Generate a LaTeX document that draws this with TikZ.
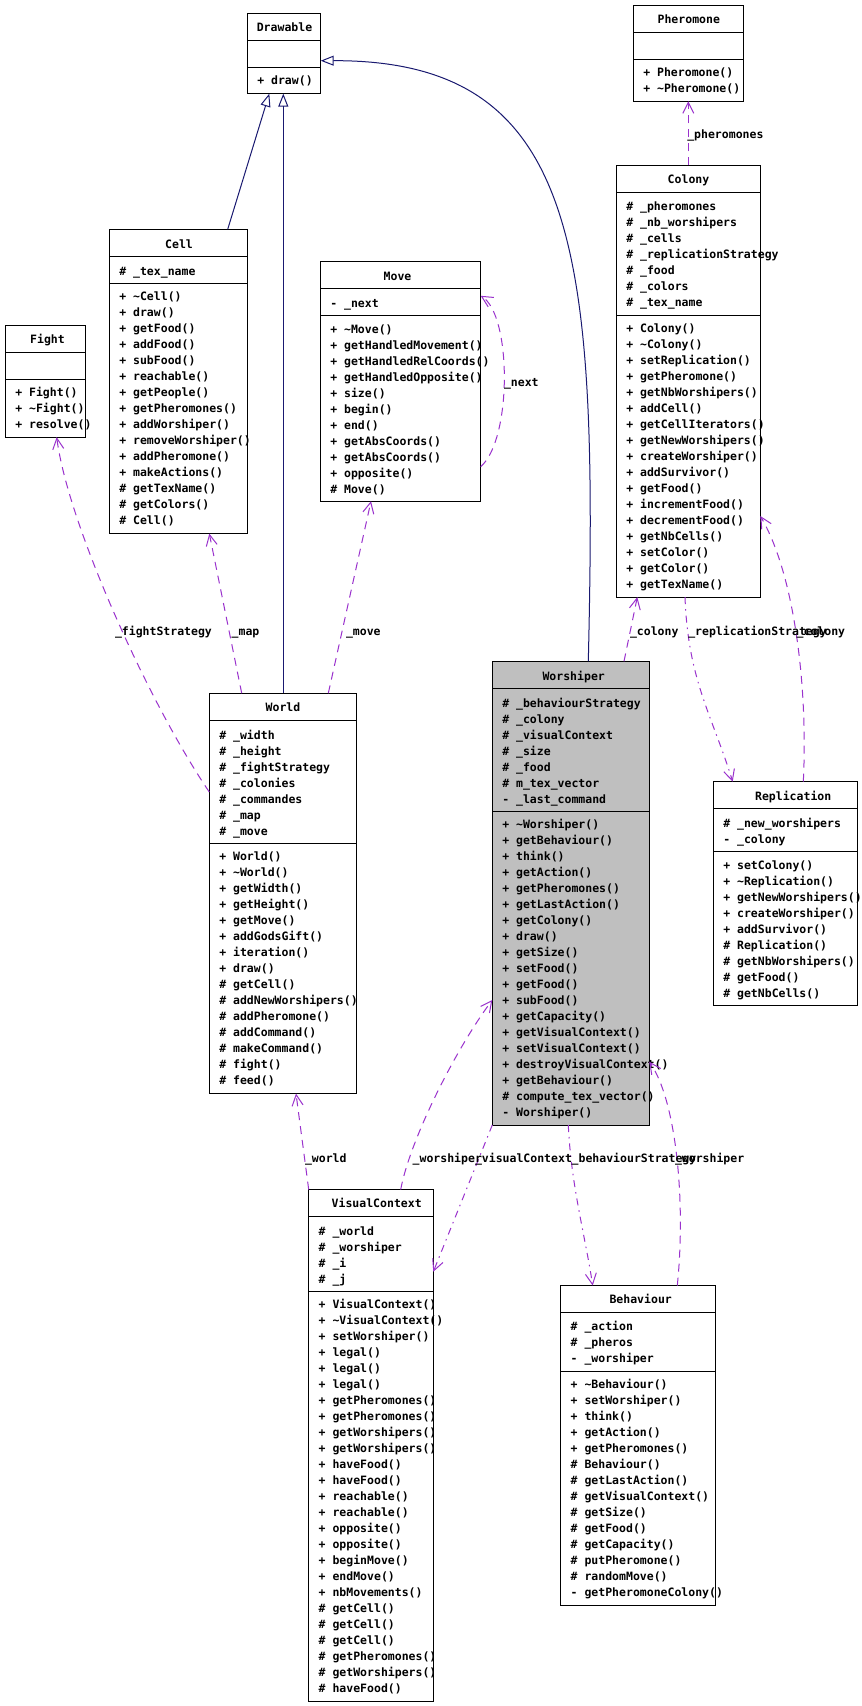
\documentclass[tikz,border=0pt]{standalone}
\usepackage{fontspec}
\newfontfamily\dmono{DejaVu Sans Mono}
\usetikzlibrary{arrows.meta,calc}
\definecolor{inhblue}{HTML}{191970}
\definecolor{deppurple}{HTML}{9A32CD}
\definecolor{boxgray}{HTML}{BFBFBF}
\tikzset{
 txt/.style={font=\dmono\bfseries\fontsize{11.5}{16}\selectfont, inner sep=0pt, outer sep=0pt},
 box/.style={draw=black, line width=1pt, inner sep=0pt, outer sep=0pt},
 secline/.style={draw=black, line width=1pt},
 inh/.style={draw=inhblue, line width=1pt, -{Triangle[open, length=13pt, width=10pt]}},
 dep/.style={draw=deppurple, line width=1pt, dash pattern=on 8pt off 6pt, -{Straight Barb[length=11pt, width=11pt]}},
 dotdep/.style={draw=deppurple, line width=1pt, dash pattern=on 7pt off 5pt on 1.5pt off 5pt, -{Straight Barb[length=11pt, width=11pt]}},
 lbl/.style={txt, anchor=base west},
}
% name, x1, y1, x2, y2, sep1, sep2, fill
\newcommand\umlbox[8]{%
 \node[box, fill=#8, minimum width={(#4)-(#2)}, minimum height={(#5)-(#3)}, anchor=north west] (#1) at (#2,#3) {};
 \draw[secline] ($(#1.north west)+(0,#6-#3)$) -- ($(#1.north east)+(0,#6-#3)$);
 \draw[secline] ($(#1.north west)+(0,#7-#3)$) -- ($(#1.north east)+(0,#7-#3)$);
}
\newcommand\umltitle[4]{\node[txt, anchor=base] (#1-t) at (#2,{#3+4}) {#4};}
\newcommand\umlrows[4]{%
 \foreach \t [count=\i] in {#4} {\node[txt, anchor=base west] (#1-\i) at (#2,{#3+4+16*(\i-1)}) {\t};}}
\begin{document}
\begin{tikzpicture}[x=1pt, y=-1pt]
\useasboundingbox (0,0) rectangle (862,1706);
\fill[white] (0,0) rectangle (862,1706);

% Drawable
\umlbox{drawable}{247.3}{13.2}{320.7}{93.6}{40.4}{67.1}{white}
\umltitle{drawable}{284.5}{27.9}{Drawable}
\umlrows{drawable-m}{257.3}{80.7}{+ draw()}

% Pheromone
\umlbox{pheromone}{633.3}{5.5}{743.3}{101.2}{32.4}{59.7}{white}
\umltitle{pheromone}{688.8}{19.8}{Pheromone}
\umlrows{pheromone-m}{643.3}{72.8}{+ Pheromone(), + \textasciitilde Pheromone()}

% Colony
\umlbox{colony}{616.3}{165.3}{760.3}{597.1}{192.6}{315.5}{white}
\umltitle{colony}{688.5}{179.9}{Colony}
\umlrows{colony-a}{626.3}{206.8}{\# \_pheromones, \# \_nb\_worshipers, \# \_cells, \# \_replicationStrategy, \# \_food, \# \_colors, \# \_tex\_name}
\umlrows{colony-m}{626.3}{328.6}{+ Colony(), + \textasciitilde Colony(), + setReplication(), + getPheromone(), + getNbWorshipers(), + addCell(), + getCellIterators(), + getNewWorshipers(), + createWorshiper(), + addSurvivor(), + getFood(), + incrementFood(), + decrementFood(), + getNbCells(), + setColor(), + getColor(), + getTexName()}

% Cell
\umlbox{cell}{109.3}{229.3}{247.3}{533.6}{256.4}{283.2}{white}
\umltitle{cell}{179}{244}{Cell}
\umlrows{cell-a}{119.3}{271.4}{\# \_tex\_name}
\umlrows{cell-m}{119.3}{296.4}{+ \textasciitilde Cell(), + draw(), + getFood(), + addFood(), + subFood(), + reachable(), + getPeople(), + getPheromones(), + addWorshiper(), + removeWorshiper(), + addPheromone(), + makeActions(), \# getTexName(), \# getColors(), \# Cell()}

% Fight
\umlbox{fight}{5.3}{325.4}{85.7}{437.1}{352.5}{379.3}{white}
\umltitle{fight}{47.5}{339.6}{Fight}
\umlrows{fight-m}{15.3}{392.9}{+ Fight(), + \textasciitilde Fight(), + resolve()}

% Move
\umlbox{move}{320.3}{261.5}{480.7}{501.2}{288.3}{315.3}{white}
\umltitle{move}{397.5}{276}{Move}
\umlrows{move-a}{330.3}{303}{- \_next}
\umlrows{move-m}{330.3}{329}{+ \textasciitilde Move(), + getHandledMovement(), + getHandledRelCoords(), + getHandledOpposite(), + size(), + begin(), + end(), + getAbsCoords(), + getAbsCoords(), + opposite(), \# Move()}

% World
\umlbox{world}{209.3}{693.2}{356.3}{1093.6}{720.4}{843.2}{white}
\umltitle{world}{283}{707.5}{World}
\umlrows{world-a}{219.3}{735}{\# \_width, \# \_height, \# \_fightStrategy, \# \_colonies, \# \_commandes, \# \_map, \# \_move}
\umlrows{world-m}{219.3}{856.8}{+ World(), + \textasciitilde World(), + getWidth(), + getHeight(), + getMove(), + addGodsGift(), + iteration(), + draw(), \# getCell(), \# addNewWorshipers(), \# addPheromone(), \# addCommand(), \# makeCommand(), \# fight(), \# feed()}

% Worshiper
\umlbox{worshiper}{492.3}{661.3}{649.3}{1125}{688.7}{811.7}{boxgray}
\umltitle{worshiper}{573.7}{676}{Worshiper}
\umlrows{worshiper-a}{502.3}{703}{\# \_behaviourStrategy, \# \_colony, \# \_visualContext, \# \_size, \# \_food, \# m\_tex\_vector, - \_last\_command}
\umlrows{worshiper-m}{502.3}{824.7}{+ \textasciitilde Worshiper(), + getBehaviour(), + think(), + getAction(), + getPheromones(), + getLastAction(), + getColony(), + draw(), + getSize(), + setFood(), + getFood(), + subFood(), + getCapacity(), + getVisualContext(), + setVisualContext(), + destroyVisualContext(), + getBehaviour(), \# compute\_tex\_vector(), - Worshiper()}

% Replication
\umlbox{replication}{713.3}{781.7}{857.7}{1005.3}{808.7}{851.3}{white}
\umltitle{replication}{793.2}{796}{Replication}
\umlrows{replication-a}{723.3}{823}{\# \_new\_worshipers, - \_colony}
\umlrows{replication-m}{723.3}{865}{+ setColony(), + \textasciitilde Replication(), + getNewWorshipers(), + createWorshiper(), + addSurvivor(), \# Replication(), \# getNbWorshipers(), \# getFood(), \# getNbCells()}

% VisualContext
\umlbox{visualcontext}{308.7}{1189.5}{433.3}{1701.1}{1216.4}{1291.5}{white}
\umltitle{visualcontext}{376.7}{1203.7}{VisualContext}
\umlrows{visualcontext-a}{318.7}{1231}{\# \_world, \# \_worshiper, \# \_i, \# \_j}
\umlrows{visualcontext-m}{318.7}{1304.6}{+ VisualContext(), + \textasciitilde VisualContext(), + setWorshiper(), + legal(), + legal(), + legal(), + getPheromones(), + getPheromones(), + getWorshipers(), + getWorshipers(), + haveFood(), + haveFood(), + reachable(), + reachable(), + opposite(), + opposite(), + beginMove(), + endMove(), + nbMovements(), \# getCell(), \# getCell(), \# getCell(), \# getPheromones(), \# getWorshipers(), \# haveFood()}

% Behaviour
\umlbox{behaviour}{560.7}{1285.5}{715.3}{1605}{1312.5}{1371.5}{white}
\umltitle{behaviour}{640.7}{1299.7}{Behaviour}
\umlrows{behaviour-a}{570.7}{1326.7}{\# \_action, \# \_pheros, - \_worshiper}
\umlrows{behaviour-m}{570.7}{1384.6}{+ \textasciitilde Behaviour(), + setWorshiper(), + think(), + getAction(), + getPheromones(), \# Behaviour(), \# getLastAction(), \# getVisualContext(), \# getSize(), \# getFood(), \# getCapacity(), \# putPheromone(), \# randomMove(), - getPheromoneColony()}

% Inheritance
\draw[inh] ($(cell.north west)+(118.4,0)$) -- ($(drawable.south west)+(22,0)$);
\draw[inh] ($(world.north west)+(74,0)$) -- ($(drawable.south west)+(36,0)$);
\draw[inh] ($(worshiper.north west)+(96,0)$) .. controls (598,250) and (580,60) .. ($(drawable.north east)+(0,47.5)$);

% Dependencies
\draw[dep] (colony.north) -- (pheromone.south);
\draw[dep] ($(move.north east)+(0,205.1)$) .. controls (512,440) and (512,315) .. ($(move.north east)+(0,34.3)$);
\draw[dep] ($(world.north west)+(32.4,0)$) -- ($(cell.south west)+(100,0)$);
\draw[dep] ($(world.north west)+(119,0)$) -- ($(move.south west)+(50.7,0)$);
\draw[dep] ($(world.north west)+(0,98.8)$) .. controls (150,705) and (68,525) .. ($(fight.south west)+(51.4,0)$);
\draw[dep] ($(worshiper.north west)+(131.7,0)$) -- ($(colony.south west)+(21,0)$);
\draw[dotdep] ($(colony.south west)+(68.7,0)$) .. controls (688,680) and (712,715) .. ($(replication.north west)+(19.4,0)$);
\draw[dep] ($(replication.north west)+(90,0)$) .. controls (808,690) and (795,575) .. ($(colony.north east)+(0,350.7)$);
\draw[dep] (visualcontext.north west) -- ($(world.south west)+(86.7,0)$);
\draw[dep] ($(visualcontext.north west)+(92,0)$) .. controls (410,1140) and (455,1050) .. ($(worshiper.north west)+(0,338.7)$);
\draw[dotdep] (worshiper.south west) -- ($(visualcontext.north east)+(0,82.2)$);
\draw[dotdep] ($(worshiper.south west)+(76,0)$) .. controls (571,1185) and (585,1235) .. ($(behaviour.north west)+(32,0)$);
\draw[dep] ($(behaviour.north west)+(116.6,0)$) .. controls (686,1200) and (676,1100) .. ($(worshiper.north east)+(0,400.4)$);

% Labels
\node[lbl] (l-pher) at (687.3,138.8) {\_pheromones};
\node[lbl] (l-next) at (504,386.8) {\_next};
\node[lbl] (l-fight) at (115,635.4) {\_fightStrategy};
\node[lbl] (l-map) at (231.7,635.4) {\_map};
\node[lbl] (l-move) at (346,635.4) {\_move};
\node[lbl] (l-wcol) at (630,635.7) {\_colony};
\node[lbl] (l-repl) at (688.3,635.7) {\_replicationStrategy};
\node[lbl] (l-rcol) at (796.7,635.7) {\_colony};
\node[lbl] (l-world) at (305,1162.5) {\_world};
\node[lbl] (l-vcw) at (412.7,1162.5) {\_worshiper};
\node[lbl] (l-vc) at (475,1162.5) {\_visualContext};
\node[lbl] (l-beh) at (571.7,1162.5) {\_behaviourStrategy};
\node[lbl] (l-bw) at (675,1162.5) {\_worshiper};
\end{tikzpicture}
\end{document}
